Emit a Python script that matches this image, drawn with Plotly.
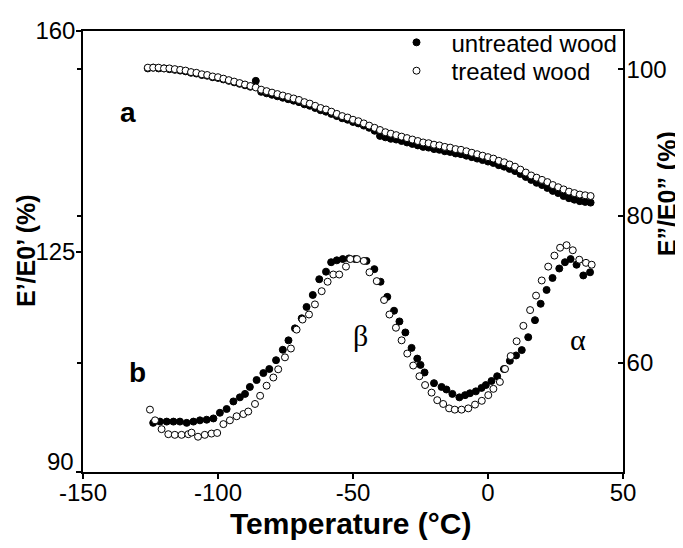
import plotly.graph_objects as go

# ---- curve a (storage modulus ratio, right axis) ----
temp_a = list(range(-126, 40, 2))
a_untreated = [100.1, 100.2, 100.1, 100.1, 100.0, 99.9, 99.8, 99.7, 99.5, 99.4,
               99.2, 99.1, 98.9, 98.8, 98.6, 98.4, 98.2, 98.0, 97.8, 97.6,
               98.4, 96.9, 96.7, 96.5, 96.3, 96.1, 95.9, 95.7, 95.5, 95.2,
               95.0, 94.7, 94.4, 94.2, 93.9, 93.6, 93.3, 93.1, 92.8, 92.6,
               92.3, 92.0, 91.6, 90.9, 90.7, 90.5, 90.4, 90.2, 90.0, 89.8,
               89.6, 89.4, 89.3, 89.1, 89.0, 88.8, 88.7, 88.5, 88.4, 88.2,
               88.0, 87.8, 87.6, 87.4, 87.2, 86.9, 86.7, 86.4, 86.1, 85.7,
               85.3, 84.9, 84.5, 84.2, 83.8, 83.4, 83.1, 82.7, 82.4, 82.2,
               82.0, 81.9, 81.8]
a_treated = [100.2, 100.2, 100.2, 100.1, 100.1, 100.0, 99.9, 99.8, 99.6, 99.5,
             99.3, 99.2, 99.0, 98.9, 98.7, 98.5, 98.3, 98.1, 97.9, 97.7,
             97.5, 97.2, 97.0, 96.8, 96.6, 96.4, 96.2, 96.0, 95.8, 95.5,
             95.3, 95.0, 94.7, 94.5, 94.2, 93.9, 93.6, 93.4, 93.1, 92.9,
             92.6, 92.3, 92.0, 91.7, 91.4, 91.2, 91.0, 90.8, 90.6, 90.4,
             90.2, 90.0, 89.9, 89.7, 89.6, 89.4, 89.3, 89.1, 89.0, 88.8,
             88.6, 88.4, 88.2, 88.0, 87.8, 87.5, 87.3, 87.0, 86.7, 86.3,
             85.9, 85.5, 85.2, 84.9, 84.6, 84.2, 83.9, 83.6, 83.3, 83.1,
             82.9, 82.8, 82.7]

# ---- curve b (loss modulus ratio, left axis) ----
temp_b_untreated = [-124.0, -121.5, -119.0, -116.5, -114.1, -111.6, -109.1, -106.7, -104.2, -101.7,
                    -99.3, -96.8, -94.3, -91.9, -90.0, -88.2, -85.7, -83.2, -81.0, -78.5,
                    -76.0, -73.9, -71.5, -69.0, -67.2, -64.9, -62.5, -60.0, -58.1, -56.0,
                    -53.8, -51.5, -49.2, -45.0, -42.1, -39.8, -37.3, -34.8, -32.8, -30.6,
                    -28.3, -26.2, -25.0, -23.5, -20.0, -17.2, -15.4, -13.2, -10.6, -8.5,
                    -6.7, -4.5, -2.4, -0.8, 1.3, 3.4, 5.9, 8.1, 10.4, 12.5,
                    14.9, 17.4, 19.5, 21.7, 23.9, 26.4, 28.5, 30.6, 32.8, 35.3,
                    37.8]
b_untreated = [97.8, 98.0, 98.0, 98.0, 98.0, 97.8, 98.0, 98.2, 98.3, 98.5,
               99.4, 100.0, 101.2, 101.85, 102.4, 103.5, 104.6, 105.7, 106.35, 107.75,
               109.4, 110.9, 112.8, 114.4, 116.2, 118.1, 120.6, 121.8, 123.3, 123.6,
               123.8, 123.9, 123.8, 123.5, 122.2, 120.2, 117.8, 115.6, 113.9, 112.15,
               109.7, 108.0, 107.0, 105.8, 104.1, 103.5, 103.1, 102.4, 101.85, 102.2,
               102.5, 102.8, 103.35, 103.8, 104.45, 105.2, 106.35, 107.65, 108.5, 109.35,
               111.4, 114.1, 116.7, 118.9, 120.8, 122.3, 123.3, 123.8, 122.9, 121.2,
               121.7]
temp_b_treated = [-125.2, -123.3, -120.9, -118.4, -116.0, -113.5, -111.0, -109.8, -107.4, -104.9,
                  -102.4, -100.3, -98.0, -95.6, -93.1, -90.6, -88.8, -86.3, -84.4, -82.0,
                  -79.5, -77.7, -75.2, -73.0, -70.9, -68.7, -66.3, -64.1, -61.6, -59.4,
                  -57.3, -55.1, -52.6, -51.0, -48.5, -46.0, -43.9, -41.2, -38.5, -36.5,
                  -34.1, -32.0, -29.9, -27.7, -25.4, -23.3, -20.9, -18.8, -16.6, -14.4,
                  -12.3, -9.8, -7.3, -4.8, -2.3, 0.1, 2.0, 4.4, 6.3, 8.4,
                  10.6, 13.1, 15.6, 17.8, 19.9, 22.3, 24.6, 26.7, 29.1, 31.4,
                  33.8, 36.3, 38.4]
b_treated = [99.9, 98.2, 96.8, 96.0, 95.9, 95.9, 96.0, 96.25, 95.6, 95.9,
             96.1, 96.2, 97.6, 98.2, 98.85, 99.2, 99.6, 100.8, 102.1, 103.7,
             105.0, 106.3, 108.2, 109.6, 112.6, 114.2, 115.0, 116.6, 118.7, 120.2,
             121.35, 121.35, 122.6, 123.8, 123.8, 123.5, 121.7, 120.3, 117.3, 115.0,
             112.9, 110.9, 108.8, 106.9, 105.2, 103.8, 102.6, 101.4, 100.8, 100.1,
             99.9, 99.9, 100.1, 100.7, 101.3, 102.2, 103.2, 104.3, 106.35, 108.4,
             110.75, 113.2, 115.7, 118.0, 120.4, 122.6, 124.35, 125.6, 126.0, 125.2,
             123.7, 123.2, 122.9]

x_ticks = [-150, -100, -50, 0, 50]
x_tick_labels = ["-150", "-100", "-50", "0", "50"]
left_ticks = [90, 125, 160]
left_tick_labels = ["", "125", "160"]   # "90" is placed slightly above its tick, as in the original
bottom_left_label = "90"
right_ticks = [60, 80, 100]

SANS = "Liberation Sans, Arial, sans-serif"
SERIF = "Liberation Serif, Times New Roman, serif"

# page body has an 8px margin; plot area target in window pixels
OFF = 8
L, R, T, B = 83, 623, 21, 472
FIG_W, FIG_H = 683 - OFF, 548 - OFF


def px(x):
    return (x - L) / (R - L)


def py(y):
    return (B - y) / (B - T)


filled = dict(symbol="circle", size=7, color="black", line=dict(color="black", width=1))
hollow = dict(symbol="circle", size=7, color="white", line=dict(color="black", width=1))

fig = go.Figure()
fig.add_trace(go.Scatter(x=temp_a, y=a_untreated, mode="markers", marker=filled,
                         name="untreated wood", yaxis="y2", legend="legend"))
fig.add_trace(go.Scatter(x=temp_b_untreated, y=b_untreated, mode="markers", marker=filled,
                         name="untreated wood", yaxis="y", showlegend=False))
fig.add_trace(go.Scatter(x=temp_a, y=a_treated, mode="markers", marker=hollow,
                         name="treated wood", yaxis="y2", legend="legend2"))
fig.add_trace(go.Scatter(x=temp_b_treated, y=b_treated, mode="markers", marker=hollow,
                         name="treated wood", yaxis="y", showlegend=False))
fig.add_trace(go.Scatter(x=[], y=[], yaxis="y3", showlegend=False, hoverinfo="skip"))

axis_common = dict(showgrid=False, zeroline=False, showline=True, linecolor="black",
                   linewidth=1.5, tickcolor="black", tickwidth=1.5, ticklen=5,
                   automargin=False,
                   tickfont=dict(family=SANS, size=24, color="black"))

legend_common = dict(xanchor="left", yanchor="top", bgcolor="rgba(0,0,0,0)",
                     font=dict(family=SANS, size=24, color="black"), itemwidth=60)

ann_font = dict(family=SANS, color="black")

fig.update_layout(
    width=FIG_W, height=FIG_H,
    margin=dict(l=L - OFF, r=FIG_W - (R - OFF), t=T - OFF, b=FIG_H - (B - OFF), pad=0),
    paper_bgcolor="white", plot_bgcolor="white",
    font=dict(family=SANS, color="black"),
    xaxis=dict(range=[-150, 50], tickvals=x_ticks, ticktext=x_tick_labels, ticks="outside",
               mirror=True, ticklabelstandoff=-7, **axis_common),
    yaxis=dict(range=[90, 160], tickvals=left_ticks, ticktext=left_tick_labels, ticks="outside",
               ticklabelstandoff=-4, **axis_common),
    yaxis2=dict(range=[45.07, 105.2], tickvals=right_ticks, ticks="inside", overlaying="y",
                side="right", anchor="x", ticklabelstandoff=-3, **axis_common),
    yaxis3=dict(range=[45.07, 105.2], tickvals=right_ticks, ticks="outside", overlaying="y",
                side="left", anchor="x", showticklabels=False, showline=False, showgrid=False,
                zeroline=False, tickcolor="black", tickwidth=1.5, ticklen=5, automargin=False),
    legend=dict(x=px(381.5), y=py(10), **legend_common),
    legend2=dict(x=px(381.5), y=py(39), **legend_common),
    annotations=[
        dict(text=bottom_left_label, x=px(76), y=py(461), xref="paper", yref="paper",
             xanchor="right", yanchor="middle", showarrow=False, font=dict(size=24, **ann_font)),
        dict(text="<b>Temperature (°C)</b>", x=px(350), y=py(525), xref="paper", yref="paper",
             xanchor="center", yanchor="middle", showarrow=False, font=dict(size=30, **ann_font)),
        dict(text="<b>E’/E0’ (%)</b>", x=px(26), y=py(246), xref="paper", yref="paper",
             xanchor="center", yanchor="middle", textangle=-90, showarrow=False,
             font=dict(size=25, **ann_font)),
        dict(text="<b>E”/E0” (%)</b>", x=px(667), y=py(188), xref="paper", yref="paper",
             xanchor="center", yanchor="middle", textangle=-90, showarrow=False,
             font=dict(size=25, **ann_font)),
        dict(text="<b>a</b>", x=-133.3, y=147.1, xref="x", yref="y", showarrow=False,
             xanchor="center", yanchor="middle", font=dict(size=28, **ann_font)),
        dict(text="<b>b</b>", x=-130.0, y=105.8, xref="x", yref="y", showarrow=False,
             xanchor="center", yanchor="middle", font=dict(size=28, **ann_font)),
        dict(text="β", x=-47.4, y=111.6, xref="x", yref="y", showarrow=False,
             xanchor="center", yanchor="middle",
             font=dict(family=SERIF, size=30, color="black")),
        dict(text="α", x=33.3, y=111.0, xref="x", yref="y", showarrow=False,
             xanchor="center", yanchor="middle",
             font=dict(family=SERIF, size=30, color="black")),
    ],
)

fig.write_html("out.html")
